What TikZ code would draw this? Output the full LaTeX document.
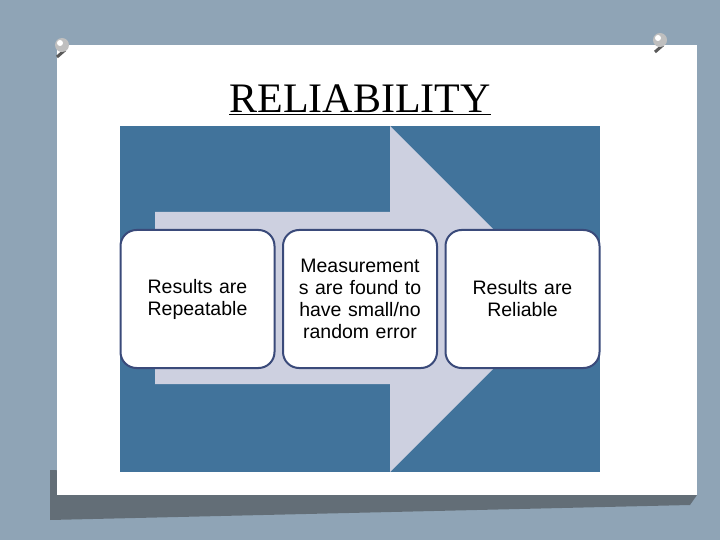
\documentclass[tikz,border=0pt]{standalone}
\usepackage{fontspec}
\newfontfamily\sans{Liberation Sans}
\setmainfont{Liberation Serif}
\begin{document}
\begin{tikzpicture}[x=1pt,y=-1pt,
  stepbox/.style={draw=boxline,line width=2pt,fill=white,rounded corners=16pt,minimum width=154pt,minimum height=138pt,inner sep=0pt,align=center,font=\sans\fontsize{19.5}{22}\selectfont,text width=148pt},
  pin/.style={fill=gray!60,draw=gray!80!black}]
\definecolor{bgc}{HTML}{8FA4B6}
\definecolor{panel}{HTML}{41739B}
\definecolor{arrowc}{HTML}{CDD0E0}
\definecolor{boxline}{HTML}{3A4A7A}
\useasboundingbox (0,0) rectangle (720,540);
\fill[bgc] (0,0) rectangle (720,540);
\fill[gray!45!black,opacity=0.5] (50,470) -- (50,520) -- (690,505) -- (697,495) -- cycle;
\fill[white] (57,45) rectangle (697,495);
\node[font=\fontsize{42}{44}\selectfont] (title) at (360,100) {\underline{RELIABILITY}};
\fill[panel] (120,126) rectangle (600,472);
\fill[arrowc] (155,212) -- (390,212) -- (390,126) -- (563,299) -- (390,472) -- (390,384) -- (155,384) -- cycle;
\node[stepbox] (b1) at (197.5,299) {Results are\\Repeatable};
\node[stepbox] (b2) at (360,299) {Measurement\\s are found to\\have small/no\\random error};
\node[stepbox] (b3) at (522.5,299) {Results are\\Reliable};
\foreach \x/\y in {62/45,660/40}{
  \draw[gray!70!black,line width=3pt] (\x-5,\y+12) -- (\x+3,\y+5);
  \fill[gray!50] (\x,\y) circle (7);
  \fill[white] (\x-2,\y-2) circle (3);
}
\end{tikzpicture}
\end{document}
